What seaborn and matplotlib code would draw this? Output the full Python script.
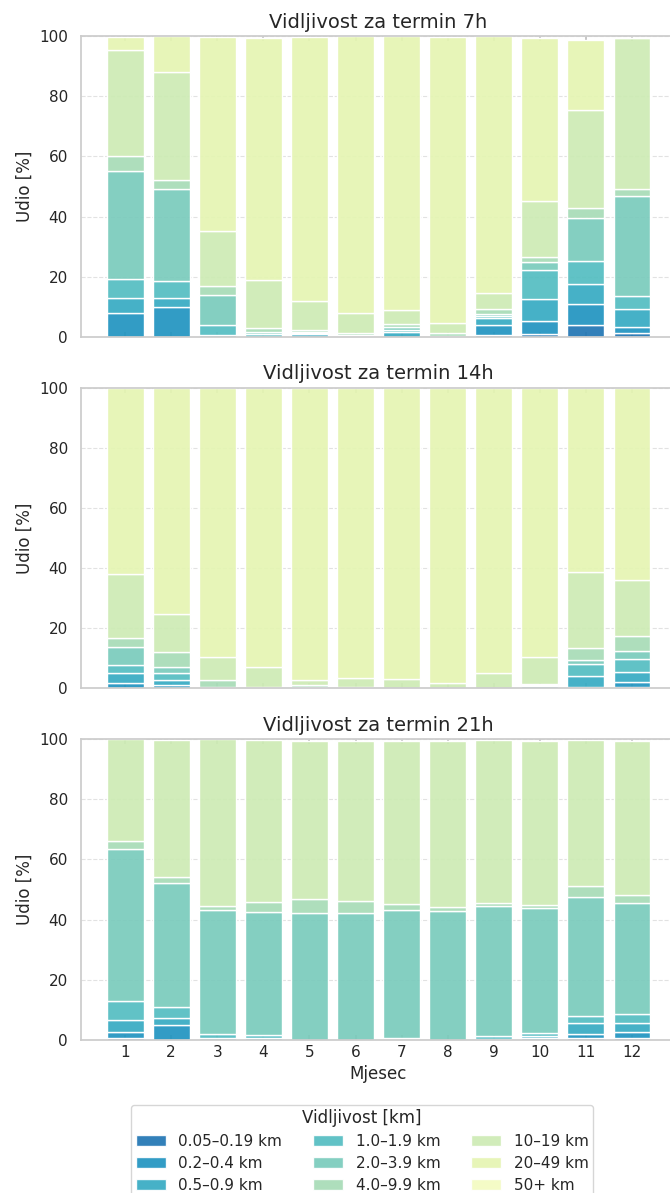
import pandas as pd
import matplotlib.pyplot as plt
import seaborn as sns
from matplotlib.patches import Patch

# Data: share [%] per month (rows) for each visibility class (columns, lowest class first)
months = list(range(1, 13))
classes = ["0.05–0.19 km", "0.2–0.4 km", "0.5–0.9 km", "1.0–1.9 km", "2.0–3.9 km",
           "4.0–9.9 km", "10–19 km", "20–49 km", "50+ km"]
terms = ["7h", "14h", "21h"]

share_7h = [
    [0.0, 8.1, 5.0, 6.1, 35.8, 5.0, 35.2, 4.6, 0.0],
    [0.0, 10.0, 2.8, 5.7, 30.5, 3.0, 36.0, 12.0, 0.0],
    [0.0, 0.0, 0.8, 3.1, 9.9, 3.0, 18.5, 64.5, 0.0],
    [0.0, 0.0, 0.0, 1.0, 0.5, 1.5, 15.8, 80.5, 0.0],
    [0.0, 0.0, 1.0, 0.3, 0.4, 0.5, 9.9, 87.7, 0.0],
    [0.0, 0.0, 0.0, 0.3, 0.3, 0.8, 6.6, 91.9, 0.0],
    [0.0, 0.0, 1.5, 0.8, 0.9, 1.1, 4.7, 91.0, 0.0],
    [0.0, 0.0, 0.0, 0.0, 0.4, 1.0, 3.4, 95.0, 0.0],
    [0.7, 3.2, 2.4, 0.5, 0.8, 1.6, 5.5, 85.3, 0.0],
    [0.9, 4.3, 7.4, 9.6, 2.7, 1.7, 18.5, 54.2, 0.0],
    [4.0, 7.0, 6.6, 7.5, 14.4, 3.5, 32.3, 23.5, 0.0],
    [1.2, 2.0, 6.0, 4.4, 33.4, 2.0, 50.3, 0.0, 0.0],
]

share_14h = [
    [0.0, 1.8, 3.4, 2.7, 6.0, 3.0, 21.0, 62.0, 0.0],
    [0.0, 1.2, 1.5, 2.3, 2.3, 4.8, 12.5, 75.4, 0.0],
    [0.0, 0.0, 0.0, 0.0, 0.5, 2.3, 7.7, 89.5, 0.0],
    [0.0, 0.0, 0.0, 0.0, 0.0, 0.5, 6.8, 92.7, 0.0],
    [0.0, 0.0, 0.0, 0.0, 0.5, 0.6, 1.6, 97.3, 0.0],
    [0.0, 0.0, 0.0, 0.0, 0.0, 0.5, 3.0, 96.5, 0.0],
    [0.0, 0.0, 0.0, 0.0, 0.0, 0.0, 3.1, 96.9, 0.0],
    [0.0, 0.0, 0.0, 0.0, 0.0, 0.0, 1.8, 98.2, 0.0],
    [0.0, 0.0, 0.0, 0.0, 0.0, 0.0, 5.3, 94.7, 0.0],
    [0.0, 0.0, 0.3, 0.5, 0.3, 0.5, 8.8, 89.6, 0.0],
    [0.0, 0.6, 3.5, 4.1, 1.2, 4.2, 25.1, 61.3, 0.0],
    [0.6, 1.5, 3.3, 4.5, 2.5, 5.0, 18.6, 64.0, 0.0],
]

share_21h = [
    [0.6, 2.2, 4.0, 6.3, 50.2, 2.8, 33.9, 0.0, 0.0],
    [0.0, 5.1, 2.3, 3.4, 41.5, 1.9, 45.5, 0.0, 0.0],
    [0.0, 0.0, 0.5, 1.5, 41.3, 1.2, 55.5, 0.0, 0.0],
    [0.0, 0.0, 0.5, 1.3, 40.7, 3.5, 53.7, 0.0, 0.0],
    [0.0, 0.0, 0.0, 0.0, 42.2, 4.5, 52.6, 0.0, 0.0],
    [0.0, 0.0, 0.0, 0.0, 42.2, 3.9, 53.2, 0.0, 0.0],
    [0.0, 0.0, 0.3, 0.5, 42.5, 1.8, 54.4, 0.0, 0.0],
    [0.0, 0.0, 0.0, 0.0, 42.8, 1.3, 55.2, 0.0, 0.0],
    [0.0, 0.0, 0.4, 1.0, 43.0, 1.2, 54.2, 0.0, 0.0],
    [0.0, 0.7, 0.5, 1.0, 41.8, 1.0, 54.5, 0.0, 0.0],
    [0.5, 1.6, 3.5, 2.3, 39.5, 3.8, 48.6, 0.0, 0.0],
    [0.8, 2.0, 3.0, 2.8, 37.0, 2.6, 51.3, 0.0, 0.0],
]

sns.set_theme(style="whitegrid", context="notebook")
plt.rcParams["font.family"] = ["DejaVu Sans"]

colors = sns.color_palette("YlGnBu", 12)[:9][::-1]
palette = dict(zip(classes, colors))

fig, axes = plt.subplots(3, 1, figsize=(6.7, 11.93), dpi=100, sharex=True)
fig.subplots_adjust(left=0.121, right=1.009, top=1 - 36 / 1193,
                    bottom=1 - 1040 / 1193, hspace=0.168)

for ax, term, share in zip(axes, terms, [share_7h, share_14h, share_21h]):
    df = pd.DataFrame(share, index=months, columns=classes)
    df = df.reset_index(names="Mjesec").melt(id_vars="Mjesec", var_name="Vidljivost",
                                             value_name="Udio")
    df = df[df["Udio"] > 0]
    sns.histplot(data=df, x="Mjesec", weights="Udio", hue="Vidljivost",
                 hue_order=classes[::-1], multiple="stack", discrete=True, shrink=0.8,
                 palette=palette, alpha=0.92, edgecolor="white", linewidth=1,
                 legend=False, ax=ax)
    ax.set_title(f"Vidljivost za termin {term}", fontsize=14)
    ax.set_ylabel("Udio [%]")
    ax.set_xlabel("")
    ax.set_ylim(0, 100)
    ax.set_xlim(0.045, 12.955)
    ax.set_xticks(months)
    ax.grid(axis="x", visible=False)
    ax.grid(axis="y", linestyle="--", color="#e2e2e2", linewidth=0.8)
    ax.tick_params(axis="x", top=True, bottom=True, direction="in", length=3.5, color=".75")

axes[-1].set_xlabel("Mjesec")

handles = [Patch(facecolor=palette[c], edgecolor="white", alpha=0.92) for c in classes]
fig.legend(handles, classes, ncol=3, title="Vidljivost [km]", loc="upper center",
           bbox_to_anchor=(362 / 670, 1 - 1097 / 1193), fontsize=11, title_fontsize=12,
           frameon=True, edgecolor=".8", labelspacing=0.45, borderpad=0.3)

fig.savefig("out.png", dpi=100)
